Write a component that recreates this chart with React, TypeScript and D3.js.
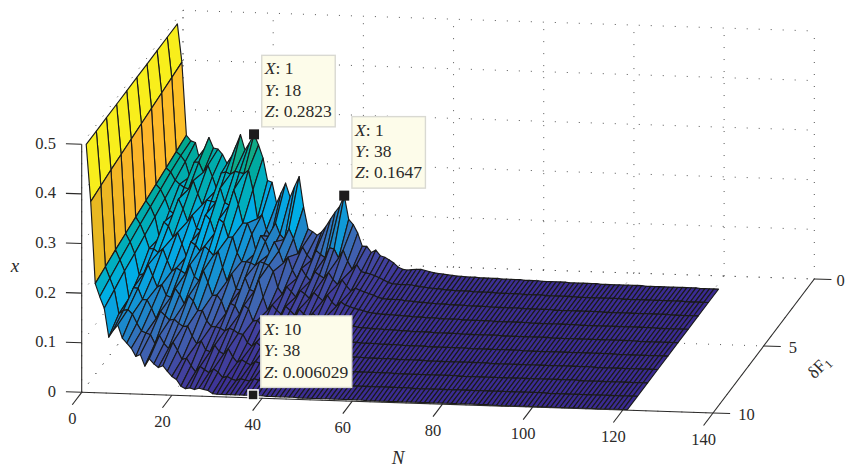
import React from 'react';
import * as d3 from 'd3';

// z values, one array per deltaF row, N = 1..121
const row1 = [
  .5, .423, .276, .265, .262, .225, .25, .273, .252, .25, .24, .222, .236, .258, .281, .25, .265, .2823, .261, .235,
  .19, .187, .145, .166, .186, .158, .18, .2, .139, .095, .09, .083, .09, .102, .117, .131, .143, .1647, .117, .107,
  .09, .064, .064, .052, .057, .046, .043, .038, .032, .024, .02, .019, .02, .021, .021, .019, .017, .015, .014, .013,
  .012, .011, .01, .01, .009, .009, .009, .008, .008, .008, .008, .008, .007, .007, .007, .007, .007, .006, .006, .006,
  .006, .005, .005, .005, .005, .005, .005, .004, .004, .004, .004, .004, .004, .004, .003, .003, .003, .003, .003, .003,
  .003, .003, .003, .003, .002, .002, .002, .002, .002, .002, .002, .002, .002, .002, .002, .002, .001, .001, .001, .001, .001,
];
const row2 = [
  .5, .419, .27, .262, .25, .22, .25, .25, .23, .244, .222, .196, .23, .232, .228, .234, .232, .23, .237, .198,
  .14, .148, .118, .105, .132, .11, .1, .122, .102, .072, .086, .07, .06, .08, .072, .066, .086, .084, .066, .082,
  .06, .044, .054, .04, .038, .036, .033, .029, .025, .02, .018, .017, .017, .017, .017, .015, .014, .013, .012, .011,
  .011, .01, .009, .009, .008, .008, .008, .008, .007, .007, .007, .007, .007, .006, .006, .006, .006, .006, .006, .005,
  .005, .005, .005, .005, .004, .004, .004, .004, .004, .004, .004, .003, .003, .003, .003, .003, .003, .003, .003, .003,
  .003, .002, .002, .002, .002, .002, .002, .002, .002, .002, .002, .002, .002, .002, .002, .001, .001, .001, .001, .001, .001,
];
const row3 = [
  .5, .415, .264, .256, .24, .232, .226, .223, .24, .214, .192, .202, .2, .198, .227, .198, .193, .224, .195, .158,
  .158, .136, .1, .134, .122, .098, .122, .104, .08, .092, .066, .05, .07, .056, .046, .064, .058, .052, .064, .05,
  .04, .05, .038, .028, .034, .03, .027, .024, .021, .017, .015, .014, .014, .014, .014, .012, .012, .011, .01, .01,
  .009, .009, .008, .008, .008, .007, .007, .007, .007, .006, .006, .006, .006, .006, .005, .005, .005, .005, .005, .005,
  .005, .004, .004, .004, .004, .004, .004, .004, .003, .003, .003, .003, .003, .003, .003, .003, .003, .003, .003, .002,
  .002, .002, .002, .002, .002, .002, .002, .002, .002, .002, .002, .002, .002, .002, .001, .001, .001, .001, .001, .001, .001,
];
const row4 = [
  .5, .411, .258, .248, .23, .206, .2, .23, .21, .185, .198, .172, .168, .2, .19, .163, .192, .185, .156, .157,
  .125, .108, .108, .106, .101, .109, .106, .102, .09, .058, .045, .06, .05, .04, .053, .047, .038, .05, .042, .034,
  .046, .032, .024, .033, .027, .024, .021, .019, .017, .014, .013, .012, .011, .011, .011, .01, .01, .009, .009, .008,
  .008, .008, .007, .007, .007, .006, .006, .006, .006, .006, .005, .005, .005, .005, .005, .005, .005, .004, .004, .004,
  .004, .004, .004, .004, .004, .003, .003, .003, .003, .003, .003, .003, .003, .003, .003, .003, .002, .002, .002, .002,
  .002, .002, .002, .002, .002, .002, .002, .002, .002, .002, .002, .002, .002, .001, .001, .001, .001, .001, .001, .001, .001,
];
const row5 = [
  .5, .407, .252, .24, .22, .178, .21, .202, .18, .19, .167, .142, .172, .166, .154, .164, .156, .146, .155, .122,
  .095, .11, .08, .078, .103, .08, .076, .1, .065, .039, .05, .04, .032, .048, .04, .031, .043, .034, .027, .036,
  .028, .021, .03, .02, .018, .018, .016, .015, .013, .011, .01, .01, .009, .009, .009, .008, .008, .008, .007, .007,
  .007, .006, .006, .006, .006, .006, .005, .005, .005, .005, .005, .005, .004, .004, .004, .004, .004, .004, .004, .004,
  .004, .003, .003, .003, .003, .003, .003, .003, .003, .003, .003, .003, .002, .002, .002, .002, .002, .002, .002, .002,
  .002, .002, .002, .002, .002, .002, .002, .002, .002, .002, .002, .001, .001, .001, .001, .001, .001, .001, .001, .001, .001,
];
const row6 = [
  .5, .403, .246, .232, .21, .184, .183, .176, .184, .16, .139, .146, .141, .135, .153, .13, .122, .142, .119, .093,
  .094, .082, .058, .078, .074, .057, .075, .068, .044, .046, .034, .025, .036, .03, .025, .034, .027, .021, .028, .022,
  .017, .024, .017, .012, .017, .014, .012, .011, .01, .009, .008, .008, .007, .007, .007, .007, .006, .006, .006, .006,
  .006, .005, .005, .005, .005, .005, .005, .004, .004, .004, .004, .004, .004, .004, .004, .004, .003, .003, .003, .003,
  .003, .003, .003, .003, .003, .003, .003, .003, .002, .002, .002, .002, .002, .002, .002, .002, .002, .002, .002, .002,
  .002, .002, .002, .002, .002, .002, .002, .002, .002, .001, .001, .001, .001, .001, .001, .001, .001, .001, .001, .001, .001,
];
const row7 = [
  .5, .399, .24, .223, .2, .157, .16, .178, .156, .134, .139, .118, .114, .132, .12, .102, .118, .108, .089, .09,
  .069, .058, .058, .055, .05, .056, .052, .046, .044, .028, .021, .029, .021, .017, .025, .022, .017, .023, .018, .014,
  .018, .013, .01, .014, .011, .01, .009, .009, .008, .007, .006, .006, .006, .006, .006, .005, .005, .005, .005, .005,
  .005, .005, .004, .004, .004, .004, .004, .004, .004, .003, .003, .003, .003, .003, .003, .003, .003, .003, .003, .003,
  .003, .003, .003, .002, .002, .002, .002, .002, .002, .002, .002, .002, .002, .002, .002, .002, .002, .002, .002, .002,
  .002, .002, .002, .002, .002, .002, .001, .001, .001, .001, .001, .001, .001, .001, .001, .001, .001, .001, .001, .001, .001,
];
const row8 = [
  .5, .395, .234, .214, .192, .137, .159, .158, .136, .135, .118, .098, .113, .105, .096, .098, .09, .084, .085, .065,
  .05, .056, .038, .035, .048, .036, .031, .042, .026, .015, .021, .015, .011, .018, .015, .012, .018, .014, .01, .014,
  .01, .008, .011, .008, .006, .007, .007, .006, .006, .005, .005, .005, .005, .005, .004, .004, .004, .004, .004, .004,
  .004, .004, .004, .004, .003, .003, .003, .003, .003, .003, .003, .003, .003, .003, .003, .003, .003, .003, .002, .002,
  .002, .002, .002, .002, .002, .002, .002, .002, .002, .002, .002, .002, .002, .002, .002, .002, .002, .002, .002, .002,
  .002, .002, .002, .002, .002, .001, .001, .001, .001, .001, .001, .001, .001, .001, .001, .001, .001, .001, .001, .001, .001,
];
const row9 = [
  .5, .39, .227, .204, .181, .133, .14, .142, .133, .115, .1, .096, .093, .075, .092, .076, .066, .079, .063, .045,
  .048, .033, .021, .032, .026, .02, .028, .022, .011, .014, .009, .006, .01, .008, .006, .011, .008, .007, .01, .007,
  .006, .008, .006, .005, .006, .005, .005, .004, .004, .004, .004, .004, .004, .004, .004, .003, .003, .003, .003, .003,
  .003, .003, .003, .003, .003, .003, .003, .003, .003, .003, .002, .002, .002, .002, .002, .002, .002, .002, .002, .002,
  .002, .002, .002, .002, .002, .002, .002, .002, .002, .002, .002, .002, .002, .002, .002, .002, .002, .002, .002, .002,
  .001, .001, .001, .001, .001, .001, .001, .001, .001, .001, .001, .001, .001, .001, .001, .001, .001, .001, .001, .001, .001,
];
const row10 = [
  .5, .385, .22, .194, .171, .113, .127, .138, .112, .102, .092, .076, .08, .057, .072, .062, .055, .059, .048, .038,
  .032, .019, .014, .016, .013, .016, .014, .012, .006, .005, .005, .005, .005, .005, .005, .005, .005, .006029, .005, .005,
  .004, .004, .004, .004, .004, .004, .004, .003, .003, .003, .003, .003, .003, .003, .003, .003, .003, .003, .003, .003,
  .003, .003, .002, .002, .002, .002, .002, .002, .002, .002, .002, .002, .002, .002, .002, .002, .002, .002, .002, .002,
  .002, .002, .002, .002, .002, .002, .002, .002, .002, .002, .001, .001, .001, .001, .001, .001, .001, .001, .001, .001,
  .001, .001, .001, .001, .001, .001, .001, .001, .001, .001, .001, .001, .001, .001, .001, .001, .001, .001, .001, .001, .001,
];
const surfaceRows = [row1, row2, row3, row4, row5, row6, row7, row8, row9, row10];

const nTicks = [0, 20, 40, 60, 80, 100, 120, 140];
const dfTicks = [0, 5, 10];
const zTicks = [0, 0.1, 0.2, 0.3, 0.4, 0.5];

const tipDf = [1, 1, 10];
const tipN = [18, 38, 38];
const tipZ = [0.2823, 0.1647, 0.006029];
const tipZText = ['0.2823', '0.1647', '0.006029'];

const colorStops = ['#3b2b92', '#42429f', '#3f66b2', '#1f84c8', '#0aa0de', '#00aee6', '#00aebf', '#00a88f', '#6fb85a', '#c2bb35', '#e3b91f', '#fdb52c', '#fad420', '#f8ee1c'];
const colorPos = [0, .1, .2, .27, .35, .4, .47, .55, .65, .72, .77, .82, .9, 1];

const serif = '"Liberation Serif", serif';
const ink = '#2b2a29';

// oblique projection, taken from where the axis corners sit in the picture
const ox = 81.7;
const oy = 392.3;
const xN = d3.scaleLinear().domain([0, 140]).range([0, 631.3]);
const yN = d3.scaleLinear().domain([0, 140]).range([0, 20.7]);
const xF = d3.scaleLinear().domain([0, 10]).range([101.3, 0]);
const yF = d3.scaleLinear().domain([0, 10]).range([-134, 0]);
const yZ = d3.scaleLinear().domain([0, 0.5]).range([0, -248]);
const color = d3.scaleLinear<string>().domain(colorPos.map(p => p * 0.5)).range(colorStops);

type P = [number, number];
const project = (n: number, f: number, z: number): P => [
  ox + xN(n) + xF(f),
  oy + yN(n) + yF(f) + yZ(z),
];
const line = d3.line<P>();

const seg = (a: P, b: P) => line([a, b]) as string;

const gridPaths = (): string[] => {
  const out: string[] = [];
  nTicks.forEach(n => {
    out.push(seg(project(n, 0, 0), project(n, 0, 0.5)));
    out.push(seg(project(n, 0, 0), project(n, 10, 0)));
  });
  dfTicks.forEach(f => {
    out.push(seg(project(0, f, 0), project(0, f, 0.5)));
    out.push(seg(project(0, f, 0), project(140, f, 0)));
  });
  zTicks.forEach(z => {
    out.push(seg(project(0, 0, z), project(140, 0, z)));
    out.push(seg(project(0, 0, z), project(0, 10, z)));
  });
  return out;
};

const facets = () => {
  const out: { d: string; fill: string }[] = [];
  // back row first, low N first, so nearer facets paint over farther ones
  for (let r = 0; r < surfaceRows.length - 1; r++) {
    const a = surfaceRows[r];
    const b = surfaceRows[r + 1];
    for (let i = 0; i < a.length - 1; i++) {
      const n = i + 1;
      const f = r + 1;
      const d = line([
        project(n, f, a[i]),
        project(n + 1, f, a[i + 1]),
        project(n + 1, f + 1, b[i + 1]),
        project(n, f + 1, b[i]),
      ]) + 'Z';
      out.push({ d, fill: color(a[i]) });
    }
  }
  return out;
};

const Tip = ({ i }: { i: number }) => {
  const [mx, my] = project(tipN[i], tipDf[i], tipZ[i]);
  const left = mx + 7.7;
  const top = my - 79;
  const w = tipZText[i].length > 6 ? 91 : 73.5;
  const lines = [['X', String(tipDf[i])], ['Y', String(tipN[i])], ['Z', tipZText[i]]];
  return (
    <g>
      <rect x={left} y={top} width={w} height={71.5} fill="#fdfcea" stroke="#d9d9d2" strokeWidth={1.4} />
      {lines.map((l, k) => (
        <text key={l[0]} x={left + 3} y={top + 19 + k * 21.3} fontSize={17.5} fontFamily={serif} fill={ink}>
          <tspan fontStyle="italic">{l[0]}</tspan>: {l[1]}
        </text>
      ))}
    </g>
  );
};

export default function App() {
  const [ax0, ay0] = project(0, 10, 0);
  const zTop = project(0, 10, 0.5);
  return (
    <svg width={845} height={469} viewBox="0 0 845 469" style={{ position: 'fixed', left: 0, top: 0, background: '#fff' }}>
      <g fill="none" stroke="#555" strokeWidth={1} strokeDasharray="1 11">
        {gridPaths().map((d, i) => <path key={i} d={d} />)}
      </g>

      <g stroke="#1a1a1a" strokeWidth={1.15} strokeLinejoin="round">
        {facets().map((q, i) => <path key={i} d={q.d} fill={q.fill} />)}
      </g>

      <g fill="none" stroke={ink} strokeWidth={1.1}>
        <path d={seg([ax0, ay0], zTop)} />
        <path d={seg(project(0, 10, 0), project(140, 10, 0))} />
        <path d={seg(project(140, 10, 0), project(140, 0, 0))} />
        {zTicks.map(z => <path key={z} d={seg(project(0, 10, z), project(-3.5, 10, z))} />)}
        {nTicks.map(n => <path key={n} d={seg(project(n, 10, 0), project(n, 10.93, 0))} />)}
        {dfTicks.map(f => <path key={f} d={seg(project(140, f, 0), project(143.8, f, 0))} />)}
      </g>

      <g fontFamily={serif} fontSize={16.5} fill={ink}>
        {zTicks.map(z => {
          const [x, y] = project(-3.5, 10, z);
          return <text key={z} x={x - 10} y={y + 5} textAnchor="end">{z === 0 ? '0' : z.toFixed(1)}</text>;
        })}
        {nTicks.map(n => {
          const [x, y] = project(n, 10.93, 0);
          return <text key={n} x={x} y={y + 19.5} textAnchor="middle">{n}</text>;
        })}
        {dfTicks.map(f => {
          const [x, y] = project(143.8, f, 0);
          return <text key={f} x={Math.min(x + 8, 836.4)} y={y + 6} textAnchor="start">{f}</text>;
        })}
        <text x={15} y={272} textAnchor="middle" fontStyle="italic" fontSize={19}>x</text>
        <text x={398} y={464} textAnchor="middle" fontStyle="italic" fontSize={19}>N</text>
        <text transform="translate(823,371) rotate(-45)" textAnchor="middle" fontSize={17.5}>
          δF<tspan fontSize={12} dy={3}>1</tspan>
        </text>
      </g>

      {tipN.map((_, i) => <Tip key={i} i={i} />)}
      {tipN.map((_, i) => {
        const [x, y] = project(tipN[i], tipDf[i], tipZ[i]);
        const outlined = tipDf[i] === 10;
        return (
          <rect
            key={i}
            x={x - 5}
            y={y - 5}
            width={10}
            height={10}
            fill="#1d1b1c"
            stroke={outlined ? '#fff' : 'none'}
            strokeWidth={outlined ? 1.5 : 0}
          />
        );
      })}
    </svg>
  );
}
